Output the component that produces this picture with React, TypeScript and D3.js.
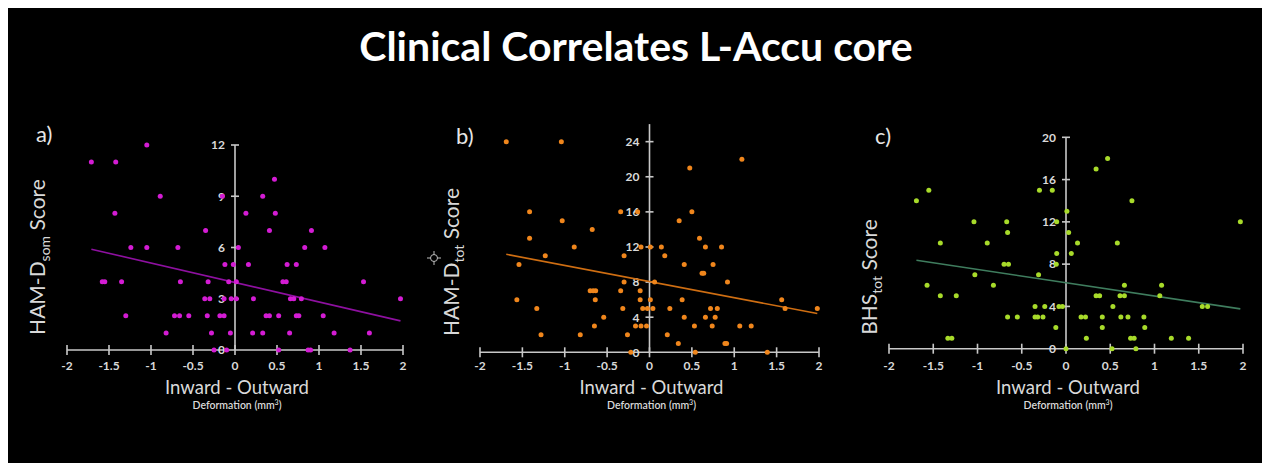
import React from "react";
import * as d3 from "d3";

// Deformation (mm³) vs. clinical score, one [deformation, score] pair per subject
const hamdSomPoints: [number, number][] = [
  [-1.71, 11], [-1.42, 11], [-1.05, 12], [-0.89, 9], [-1.43, 8], [-0.35, 7], [-1.24, 6], [-1.05, 6], [-0.68, 6],
  [-1.58, 4], [-1.55, 4], [-1.35, 4], [-0.65, 4], [-0.32, 4], [-0.075, 4], [0.016, 4],
  [-0.36, 3], [-0.3, 3], [-0.13, 3], [-0.045, 3], [0.016, 3],
  [-1.3, 2], [-0.72, 2], [-0.66, 2], [-0.55, 2], [-0.33, 2], [-0.18, 2], [-0.13, 2],
  [-0.82, 1], [-0.28, 1], [-0.055, 1], [-0.25, 0], [-0.1, 0],
  [-0.15, 9], [-0.12, 5], [-0.02, 5], [0.04, 6],
  [0.47, 10], [0.33, 9], [0.13, 8], [0.48, 8], [0.41, 7], [0.91, 7], [0.83, 6], [1.07, 6],
  [0.16, 5], [0.62, 5], [0.73, 5], [0.57, 4], [0.61, 4], [1.53, 4],
  [0.22, 3], [0.66, 3], [0.7, 3], [0.79, 3], [1.97, 3],
  [0.37, 2], [0.41, 2], [0.52, 2], [0.73, 2], [0.76, 2], [1.05, 2],
  [0.21, 1], [0.33, 1], [0.65, 1], [1.18, 1], [1.6, 1],
  [0.52, 0], [0.87, 0], [0.9, 0], [1.37, 0],
];

const hamdTotPoints: [number, number][] = [
  [-1.69, 24], [-1.04, 24], [-1.415, 16], [-1.415, 13], [-1.03, 15], [-0.676, 14], [-0.888, 12], [-1.23, 11],
  [-1.54, 10], [-1.565, 6], [-1.33, 5], [-1.28, 2], [-0.817, 2],
  [-0.7, 7], [-0.665, 7], [-0.635, 7], [-0.64, 6], [-0.65, 3], [-0.54, 4],
  [-0.34, 16], [-0.14, 16], [-0.3, 11], [-0.1, 12], [0.01, 12], [-0.3, 8], [-0.34, 7], [-0.11, 7],
  [-0.315, 5], [-0.11, 6], [-0.08, 5], [-0.025, 5], [0.01, 6], [-0.165, 3], [-0.1, 3], [-0.035, 3],
  [-0.26, 2], [-0.22, 0],
  [1.09, 22], [0.475, 21], [0.5, 16], [0.35, 15], [0.59, 13], [0.14, 12], [0.66, 12], [0.85, 12],
  [0.18, 11], [0.41, 10], [0.75, 10], [0.62, 9], [0.64, 9], [0.06, 8], [0.92, 8], [0.385, 6], [1.56, 6],
  [0.04, 5], [0.24, 5], [0.72, 5], [0.8, 5], [1.6, 5], [1.98, 5], [0.41, 4], [0.66, 4], [0.775, 4],
  [0.53, 3], [0.74, 3], [1.065, 3], [1.2, 3], [0.21, 2], [0.34, 1], [0.89, 1], [0.91, 1], [0.54, 0], [1.39, 0],
];

const bhsTotPoints: [number, number][] = [
  [-1.69, 14], [-1.55, 15], [-1.04, 12], [-0.67, 12], [-0.66, 11], [-1.42, 10], [-0.89, 10], [-0.7, 8],
  [-0.65, 8], [-1.03, 7], [-1.57, 6], [-0.82, 6], [-1.42, 5], [-1.24, 5], [-0.66, 3], [-0.55, 3],
  [-1.335, 1], [-1.29, 1],
  [-0.3, 15], [-0.155, 15], [-0.105, 12], [-0.31, 7], [-0.35, 4], [-0.24, 4], [-0.08, 4], [-0.04, 4],
  [-0.35, 3], [-0.32, 3], [-0.26, 3], [-0.11, 8], [-0.105, 9], [-0.115, 2], [0, 0], [0.01, 13], [0.03, 11],
  [0.47, 18], [0.34, 17], [0.745, 14], [1.97, 12], [0.13, 10], [0.58, 10], [0.06, 9], [0.66, 6], [1.08, 6],
  [0.34, 5], [0.38, 5], [0.61, 5], [0.66, 5], [1.06, 5], [0.53, 4], [1.54, 4], [1.6, 4],
  [0.17, 3], [0.22, 3], [0.41, 3], [0.62, 3], [0.7, 3], [0.88, 3], [0.41, 2], [0.89, 2],
  [0.23, 1], [0.73, 1], [0.77, 1], [1.19, 1], [1.385, 1], [0.52, 0], [0.79, 0],
];

const xTicks = [-2, -1.5, -1, -0.5, 0, 0.5, 1, 1.5, 2];
const yTicksA = [0, 3, 6, 9, 12];
const yTicksB = [0, 4, 8, 12, 16, 20, 24];
const yTicksC = [0, 4, 8, 12, 16, 20];
const yMaxes = [12, 26, 20];

// Linear fit per panel: score = intercept + slope * deformation
const trendIntercepts = [3.95, 8.06, 6.24];
const trendSlopes = [-1.14, -1.84, -1.256];

const chartTitle = "Clinical Correlates L-Accu core";
const panelLetters = ["a)", "b)", "c)"];
const yTitles: [string, string][] = [["HAM-D", "som"], ["HAM-D", "tot"], ["BHS", "tot"]];
const xTitle = "Inward - Outward";
const xSubtitle = "Deformation (mm";

const FONT = "Lato, 'Open Sans', sans-serif";
const AXIS = "#c8c8c8";
const TEXT = "#d9d9d9";

type PanelCfg = {
  points: [number, number][];
  yTicks: number[];
  yMax: number;
  xRange: [number, number];
  yRange: [number, number];
  dot: string;
  line: string;
  titleX: number;
  titleY: number;
  letterX: number;
  letterY: number;
  capTop: boolean;
};

const panels: PanelCfg[] = [
  { points: hamdSomPoints, yTicks: yTicksA, yMax: yMaxes[0], xRange: [67, 403], yRange: [350, 145],
    dot: "#d41cd4", line: "#8e10a0", titleX: 45, titleY: 257, letterX: 36, letterY: 142, capTop: true },
  { points: hamdTotPoints, yTicks: yTicksB, yMax: yMaxes[1], xRange: [480, 819], yRange: [352.3, 124.1],
    dot: "#f0861c", line: "#cf6e12", titleX: 459, titleY: 262, letterX: 456, letterY: 144, capTop: false },
  { points: bhsTotPoints, yTicks: yTicksC, yMax: yMaxes[2], xRange: [889, 1243], yRange: [348.7, 137.3],
    dot: "#a8db2a", line: "#3f7d5e", titleX: 877, titleY: 277, letterX: 875, letterY: 144, capTop: true },
];

function Panel({ cfg, idx }: { cfg: PanelCfg; idx: number }) {
  const x = d3.scaleLinear().domain([-2, 2]).range(cfg.xRange);
  const y = d3.scaleLinear().domain([0, cfg.yMax]).range(cfg.yRange);
  const x0 = x(0);
  const y0 = y(0);
  const [xmin, xmax] = d3.extent(cfg.points, (d) => d[0]) as [number, number];
  const fit = (v: number) => trendIntercepts[idx] + trendSlopes[idx] * v;
  const trendPath = d3.line<number>().x((v) => x(v)).y((v) => y(fit(v)))([xmin, xmax]) || "";
  const axisTop = y(cfg.yMax);
  const xCenter = (cfg.xRange[0] + cfg.xRange[1]) / 2 + 2;

  return (
    <g>
      <text x={cfg.letterX} y={cfg.letterY} fill="#e6e6e6" fontSize={22} fontFamily={FONT}>
        {panelLetters[idx]}
      </text>

      {/* x axis with crossing ticks */}
      <line x1={x(-2)} x2={x(2)} y1={y0} y2={y0} stroke={AXIS} strokeWidth={1.6} />
      {xTicks.map((t) => (
        <g key={"xt" + t}>
          <line x1={x(t)} x2={x(t)} y1={y0 - 5} y2={y0 + 5} stroke={AXIS} strokeWidth={1.6} />
          <text x={x(t)} y={350 + 20} fill={TEXT} fontSize={12} fontWeight={700}
            fontFamily={FONT} textAnchor="middle">{t}</text>
        </g>
      ))}

      {/* y axis through zero */}
      <line x1={x0} x2={x0} y1={y0} y2={axisTop} stroke={AXIS} strokeWidth={1.6} />
      {cfg.capTop && (
        <line x1={x0 - 4} x2={x0 + 4} y1={axisTop} y2={axisTop} stroke={AXIS} strokeWidth={1.6} />
      )}
      {cfg.yTicks.map((t) => (
        <g key={"yt" + t}>
          {t > 0 && t < cfg.yMax && (
            <line x1={x0 - 4} x2={x0 + 4} y1={y(t)} y2={y(t)} stroke={AXIS} strokeWidth={1.6} />
          )}
          <text x={x0 - 10} y={y(t)} dy="0.36em" fill={TEXT} fontSize={12} fontWeight={700}
            fontFamily={FONT} textAnchor="end">{t}</text>
        </g>
      ))}

      {/* trend line */}
      <path d={trendPath} stroke={cfg.line} strokeWidth={1.6} fill="none" />

      {/* subjects */}
      {cfg.points.map((p, k) => (
        <circle key={k} cx={x(p[0])} cy={y(p[1])} r={2.5} fill={cfg.dot} />
      ))}

      {/* axis titles */}
      <text transform={`translate(${cfg.titleX},${cfg.titleY}) rotate(-90)`} fill={TEXT}
        fontSize={21} fontFamily={FONT} textAnchor="middle">
        {yTitles[idx][0]}
        <tspan fontSize={14} dy={5}>{yTitles[idx][1]}</tspan>
        <tspan dy={-5}> Score</tspan>
      </text>
      <text x={xCenter} y={394} fill={TEXT} fontSize={18.5} fontFamily={FONT} textAnchor="middle">
        {xTitle}
      </text>
      <text x={xCenter} y={409} fill={TEXT} fontSize={10.5} fontWeight={600} fontFamily={FONT} textAnchor="middle">
        {xSubtitle}
        <tspan fontSize={7} dy={-4}>3</tspan>
        <tspan dy={4}>)</tspan>
      </text>
    </g>
  );
}

export default function App() {
  return (
    <svg width={1254} height={455} style={{ display: "block", background: "#000" }}>
      <g transform="translate(-8,-8)">
        <rect x={8} y={8} width={1254} height={455} fill="#000" />
        <text x={636} y={61} fill="#ffffff" fontSize={41} fontWeight={700} fontFamily={FONT}
          textAnchor="middle">{chartTitle}</text>
        {panels.map((p, i) => (
          <Panel key={i} cfg={p} idx={i} />
        ))}
        {/* pointer cursor */}
        <g stroke="#bdbdbd" strokeWidth={1} fill="none">
          <circle cx={434} cy={258} r={3.5} />
          <line x1={434} x2={434} y1={251} y2={254.5} />
          <line x1={434} x2={434} y1={261.5} y2={265} />
          <line x1={427} x2={430.5} y1={258} y2={258} />
          <line x1={437.5} x2={441} y1={258} y2={258} />
        </g>
      </g>
    </svg>
  );
}
